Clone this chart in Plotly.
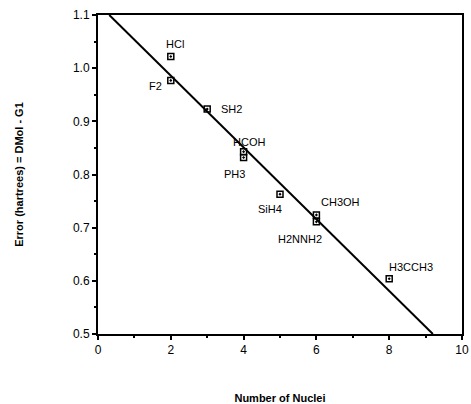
import plotly.graph_objects as go

molecules = ["HCl", "F2", "SH2", "HCOH", "PH3", "SiH4", "CH3OH", "H2NNH2", "H3CCH3"]
nuclei = [2, 2, 3, 4, 4, 5, 6, 6, 8]
error = [1.022, 0.977, 0.923, 0.843, 0.832, 0.763, 0.724, 0.711, 0.604]
# label offsets in pixels (styling)
label_dx = [4, -15, 24, 5, -9, -10, 24, -16, 22]
label_dy = [12, -6, 0, 10, -17, -15, 13, -17, 12]

fit_x = [0.31, 9.2]
fit_y = [1.1, 0.5]

x_ticks = [0, 2, 4, 6, 8, 10]
y_ticks = [0.5, 0.6, 0.7, 0.8, 0.9, 1.0, 1.1]
y_tick_labels = ["0.5", "0.6", "0.7", "0.8", "0.9", "1.0", "1.1"]

FONT = "Liberation Sans, Arial"

fig = go.Figure()
fig.add_trace(go.Scatter(x=fit_x, y=fit_y, mode="lines",
                         line=dict(color="black", width=2), showlegend=False))
fig.add_trace(go.Scatter(x=nuclei, y=error, mode="markers",
                         marker=dict(symbol="square-open-dot", size=6, color="black",
                                     line=dict(width=1.5, color="black")),
                         showlegend=False))

for m, x, y, dx, dy in zip(molecules, nuclei, error, label_dx, label_dy):
    fig.add_annotation(x=x, y=y, text=m, showarrow=False, xshift=dx, yshift=dy,
                       font=dict(family=FONT, size=11, color="black"))

fig.update_xaxes(range=[0, 10], tickvals=x_ticks, ticks="outside", ticklen=4,
                 tickwidth=1.5, tickcolor="black", automargin=False,
                 minor=dict(dtick=1, ticks="outside", ticklen=2, tickcolor="black"),
                 showline=True, linecolor="black", linewidth=2, mirror=True,
                 showgrid=False, zeroline=False,
                 title=dict(text="<b>Number of Nuclei</b>", standoff=39,
                            font=dict(size=11, family=FONT, color="black")),
                 tickfont=dict(size=12, family=FONT, color="black"))
fig.update_yaxes(range=[0.5, 1.1], tickvals=y_ticks, ticktext=y_tick_labels,
                 ticks="outside", ticklen=4, tickwidth=1.5, tickcolor="black",
                 automargin=False,
                 minor=dict(dtick=0.05, ticks="outside", ticklen=2, tickcolor="black"),
                 showline=True, linecolor="black", linewidth=2, mirror=True,
                 showgrid=False, zeroline=False,
                 title=dict(text="<b>Error (hartrees) = DMol - G1</b>", standoff=47,
                            font=dict(size=11, family=FONT, color="black")),
                 tickfont=dict(size=12, family=FONT, color="black"))

fig.update_layout(width=471, height=404, margin=dict(l=98, r=9, t=15, b=70),
                  plot_bgcolor="white", paper_bgcolor="white")
fig.write_html("out.html", config={"displayModeBar": False},
               post_script="document.body.style.margin='0px';document.body.style.overflow='hidden';")
